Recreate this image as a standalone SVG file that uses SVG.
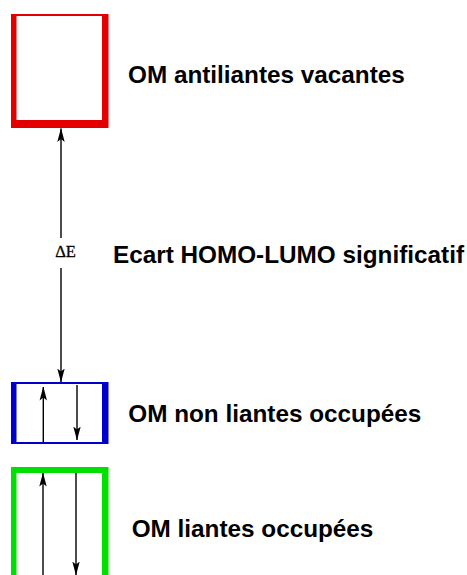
<svg xmlns="http://www.w3.org/2000/svg" width="467" height="575" viewBox="0 0 467 575">
<style>
.lbl{font-family:"Liberation Sans",Arial,sans-serif;font-weight:bold;font-size:24.3px;fill:#000}
.de{font-family:"Liberation Serif","Times New Roman",serif;font-size:16.5px;fill:#000;stroke:#000;stroke-width:0.3}
.ar{stroke:#000;stroke-width:1.4;fill:none}
</style>
<defs>
<marker id="tip" markerUnits="userSpaceOnUse" markerWidth="14" markerHeight="8" viewBox="0 0 14 8" refX="13.5" refY="4" orient="auto-start-reverse">
<path d="M14,4 L0,0.3 L3,4 L0,7.7 Z" fill="#000"/>
</marker>
</defs>
<rect width="467" height="575" fill="#fff"/>
<g id="lumo">
<rect x="11" y="14" width="97.5" height="114" fill="#e20000"/>
<rect x="16.5" y="16" width="85.5" height="104" fill="#fff"/>
<text class="lbl" x="128" y="83">OM antiliantes vacantes</text>
</g>
<g id="homo">
<rect x="11" y="382" width="97.5" height="62" fill="#0000cc"/>
<rect x="16.5" y="384" width="85.5" height="58" fill="#fff"/>
<text class="lbl" x="128.3" y="421.5">OM non liantes occupées</text>
</g>
<g id="liantes">
<rect x="11" y="467" width="97.5" height="120" fill="#00e000"/>
<rect x="16.5" y="473" width="85.5" height="120" fill="#fff"/>
<text class="lbl" x="131.7" y="536.5">OM liantes occupées</text>
</g>
<g id="ecart">
<text class="de" x="65.5" y="256.5" text-anchor="middle">ΔE</text>
<text class="lbl" x="113" y="263">Ecart HOMO-LUMO significatif</text>
</g>
<g id="connectors">
<line class="ar" x1="61" y1="238" x2="61" y2="128.5" marker-end="url(#tip)"/>
<line class="ar" x1="61" y1="268" x2="61" y2="382" marker-end="url(#tip)"/>
<line class="ar" x1="43.3" y1="442" x2="43.3" y2="387" marker-end="url(#tip)"/>
<line class="ar" x1="77" y1="385" x2="77" y2="440" marker-end="url(#tip)"/>
<line class="ar" x1="43" y1="575" x2="43" y2="473" marker-end="url(#tip)"/>
<line class="ar" x1="76" y1="473" x2="76" y2="575" marker-end="url(#tip)"/>
</g>
</svg>
